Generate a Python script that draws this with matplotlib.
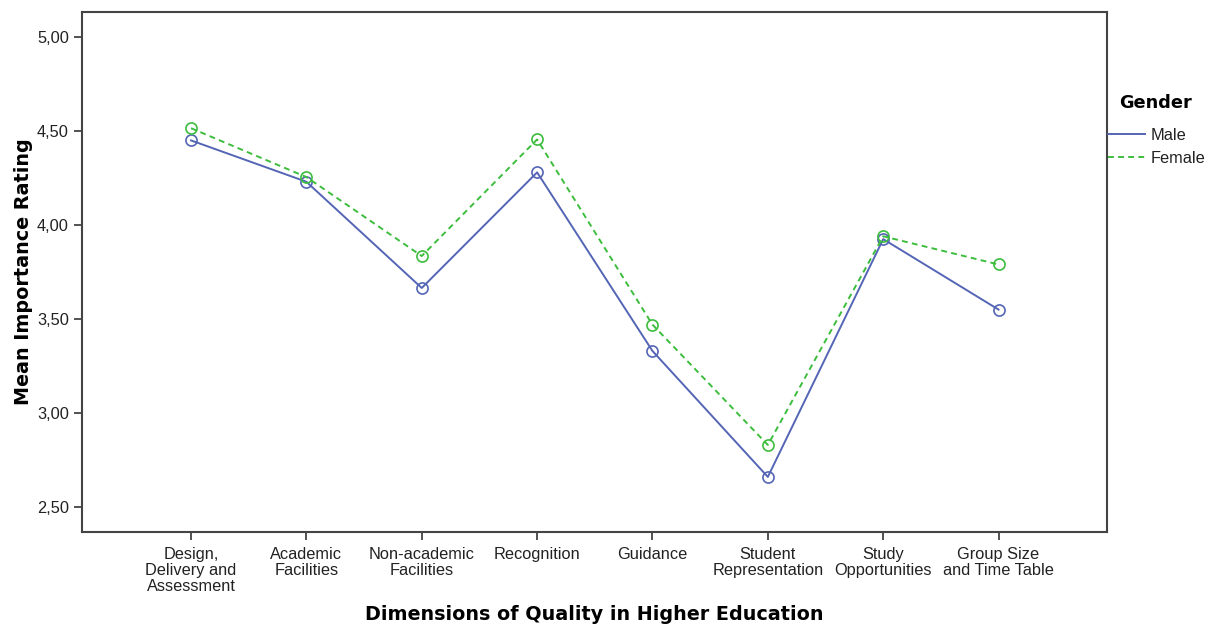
import matplotlib.pyplot as plt
from matplotlib.lines import Line2D
from matplotlib.ticker import FuncFormatter

# ------------------------------------------------------
# Data: mean importance rating per quality dimension
# ------------------------------------------------------
dimensions = [
    "Design,\nDelivery and\nAssessment",
    "Academic\nFacilities",
    "Non-academic\nFacilities",
    "Recognition",
    "Guidance",
    "Student\nRepresentation",
    "Study\nOpportunities",
    "Group Size\nand Time Table",
]
male = [4.45, 4.23, 3.665, 4.28, 3.33, 2.66, 3.925, 3.55]
female = [4.515, 4.255, 3.835, 4.455, 3.47, 2.83, 3.94, 3.79]
y_ticks = [2.5, 3.0, 3.5, 4.0, 4.5, 5.0]

male_color = "#5465B5"
female_color = "#3DBD3D"
txt = "#222222"
tick_font = {"family": "Liberation Sans", "size": 11.8}

fig = plt.figure(figsize=(12.1, 6.28), dpi=100)
ax = fig.add_axes([82 / 1210, 96 / 628, 1025 / 1210, 520 / 628])

x = range(len(dimensions))
ax.plot(x, male, color=male_color, lw=1.4, marker="o", ms=8,
        mfc="none", mec=male_color, mew=1.2)
ax.plot(x, female, color=female_color, lw=1.4, ls=(0, (3, 2.2)), marker="o",
        ms=8, mfc="none", mec=female_color, mew=1.2)

ax.set_xlim(-0.945, 7.94)
ax.set_ylim(2.367, 5.133)
ax.set_yticks(y_ticks)
ax.yaxis.set_major_formatter(FuncFormatter(lambda v, p: f"{v:.2f}".replace(".", ",")))
ax.set_xticks(list(x))
ax.set_xticklabels(dimensions, color=txt, linespacing=1.1, **tick_font)
for lab in ax.get_yticklabels():
    lab.set_family(tick_font["family"])
    lab.set_fontsize(tick_font["size"])
    lab.set_color(txt)

ax.tick_params(axis="both", direction="out", length=6, width=1.3,
               color="#444444", pad=3.5)
ax.tick_params(axis="x", pad=4.5)
for s in ax.spines.values():
    s.set_color("#444444")
    s.set_linewidth(1.5)

ax.set_xlabel("Dimensions of Quality in Higher Education", fontsize=13.8,
              fontweight="bold", color="black")
ax.xaxis.set_label_coords(0.5, -0.14)
ax.set_ylabel("Mean Importance Rating", fontsize=13.8, fontweight="bold",
              color="black")
ax.yaxis.set_label_coords(-0.048, 0.5)

# legend (lines only) with a separate title
fig.text(1156 / 1210, 1 - 103 / 628, "Gender", fontsize=12.8,
         fontweight="bold", ha="center", va="center")
handles = [
    Line2D([], [], color=male_color, lw=1.4),
    Line2D([], [], color=female_color, lw=1.4, ls=(0, (3, 2.2))),
]
leg = fig.legend(handles, ["Male", "Female"],
                 loc="upper left", bbox_to_anchor=(1108 / 1210, 1 - 128 / 628),
                 frameon=False, borderpad=0, borderaxespad=0,
                 handlelength=2.26, handletextpad=0.37, labelspacing=0.46,
                 prop=tick_font)
for t in leg.get_texts():
    t.set_color(txt)

plt.savefig("out.png", dpi=100)
plt.close()
